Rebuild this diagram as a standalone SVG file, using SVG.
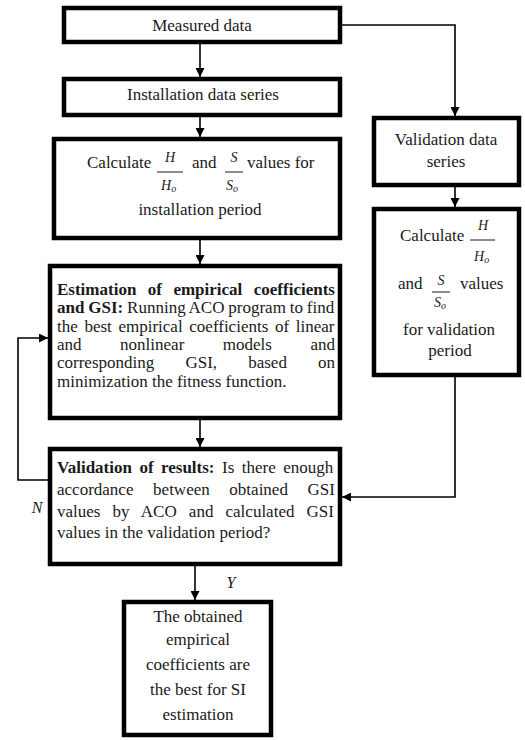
<svg xmlns="http://www.w3.org/2000/svg" width="525" height="740" viewBox="0 0 525 740" font-family="Liberation Serif, Times New Roman, serif">
  <defs>
    <marker id="arrow" viewBox="0 0 10 10" refX="10" refY="5" markerWidth="9" markerHeight="9" markerUnits="userSpaceOnUse" orient="auto">
      <path d="M0,0 L10,5 L0,10 z" fill="#000"/>
    </marker>
    <style>
      .box { fill: #fff; stroke: #000; stroke-width: 4.5; }
      .link { fill: none; stroke: #000; stroke-width: 1.6; }
      text { font-size: 17px; fill: #1a1a1a; }
      .c { text-anchor: middle; }
      .b { font-weight: bold; }
      .frac { font-style: italic; font-size: 14px; }
      .sub { font-style: italic; font-size: 10px; }
      .bar { stroke: #1a1a1a; stroke-width: 1; }
      .lab { font-style: italic; font-size: 16px; }
    </style>
  </defs>

  <rect width="525" height="740" fill="#fff"/>

  <!-- connectors -->
  <g id="connectors">
    <path class="link" d="M200,44 V77" marker-end="url(#arrow)"/>
    <path class="link" d="M342,25 H455 V116" marker-end="url(#arrow)"/>
    <path class="link" d="M200,117 V137" marker-end="url(#arrow)"/>
    <path class="link" d="M455,187 V207" marker-end="url(#arrow)"/>
    <path class="link" d="M200,240 V264" marker-end="url(#arrow)"/>
    <path class="link" d="M200,420 V447" marker-end="url(#arrow)"/>
    <path class="link" d="M455,377 V497 H342" marker-end="url(#arrow)"/>
    <path class="link" d="M48,480 H18 V338 H48" marker-end="url(#arrow)"/>
    <path class="link" d="M195,566 V600" marker-end="url(#arrow)"/>
    <text class="lab" x="37" y="513" text-anchor="middle">N</text>
    <text class="lab" x="231" y="588" text-anchor="middle">Y</text>
  </g>

  <!-- measured data -->
  <g id="measured">
    <rect class="box" x="64" y="8" width="276" height="34"/>
    <text class="c" x="202" y="31">Measured data</text>
  </g>

  <!-- installation series -->
  <g id="installation">
    <rect class="box" x="64" y="79" width="276" height="36"/>
    <text class="c" x="203" y="100">Installation data series</text>
  </g>

  <!-- ratios for installation period -->
  <g id="calc-install">
    <rect class="box" x="54" y="139" width="286" height="99"/>
    <text x="87" y="168">Calculate</text>
    <text class="frac c" x="170" y="162">H</text>
    <line class="bar" x1="157" y1="172" x2="183" y2="172"/>
    <text class="frac" x="161" y="190">H<tspan class="sub" dy="2">o</tspan></text>
    <text x="192" y="168">and</text>
    <text class="frac c" x="234" y="162">S</text>
    <line class="bar" x1="225" y1="172" x2="243" y2="172"/>
    <text class="frac" x="226" y="190">S<tspan class="sub" dy="2">o</tspan></text>
    <text x="247" y="168">values for</text>
    <text class="c" x="200" y="215">installation period</text>
  </g>

  <!-- coefficient estimation -->
  <g id="estimation">
    <rect class="box" x="50" y="266" width="290" height="152"/>
    <text x="57" y="295" class="b" style="word-spacing:7.2px">Estimation of empirical coefficients</text>
    <text x="57" y="313" style="word-spacing:-0.4px"><tspan class="b">and GSI:</tspan> Running ACO program to find</text>
    <text x="57" y="332" style="word-spacing:2.4px">the best empirical coefficients of linear</text>
    <text x="57" y="350" style="word-spacing:34.3px">and nonlinear models and</text>
    <text x="57" y="368" style="word-spacing:26.9px">corresponding GSI, based on</text>
    <text x="57" y="387">minimization the fitness function.</text>
  </g>

  <!-- validation of results -->
  <g id="check">
    <rect class="box" x="50" y="449" width="290" height="115"/>
    <text x="57" y="473" style="word-spacing:3.2px"><tspan class="b">Validation of results:</tspan> Is there enough</text>
    <text x="57" y="495" style="word-spacing:15.4px">accordance between obtained GSI</text>
    <text x="57" y="517" style="word-spacing:7.9px">values by ACO and calculated GSI</text>
    <text x="57" y="538">values in the validation period?</text>
  </g>

  <!-- final result -->
  <g id="result">
    <rect class="box" x="124" y="602" width="147" height="133"/>
    <text class="c" x="198" y="622">The obtained</text>
    <text class="c" x="198" y="645">empirical</text>
    <text class="c" x="198" y="670">coefficients are</text>
    <text class="c" x="198" y="695">the best for SI</text>
    <text class="c" x="198" y="720">estimation</text>
  </g>

  <!-- validation series -->
  <g id="validation-series">
    <rect class="box" x="374" y="118" width="145" height="67"/>
    <text class="c" x="446" y="145">Validation data</text>
    <text class="c" x="446" y="167">series</text>
  </g>

  <!-- ratios for validation period -->
  <g id="calc-valid">
    <rect class="box" x="374" y="209" width="145" height="166"/>
    <text x="400" y="241">Calculate</text>
    <text class="frac c" x="483" y="230">H</text>
    <line class="bar" x1="470" y1="240" x2="495" y2="240"/>
    <text class="frac" x="474" y="261">H<tspan class="sub" dy="2">o</tspan></text>
    <text x="398" y="289">and</text>
    <text class="frac c" x="441" y="285">S</text>
    <line class="bar" x1="432" y1="292" x2="450" y2="292"/>
    <text class="frac" x="434" y="307">S<tspan class="sub" dy="2">o</tspan></text>
    <text x="460" y="289">values</text>
    <text class="c" x="449" y="335">for validation</text>
    <text class="c" x="450" y="356">period</text>
  </g>
</svg>
